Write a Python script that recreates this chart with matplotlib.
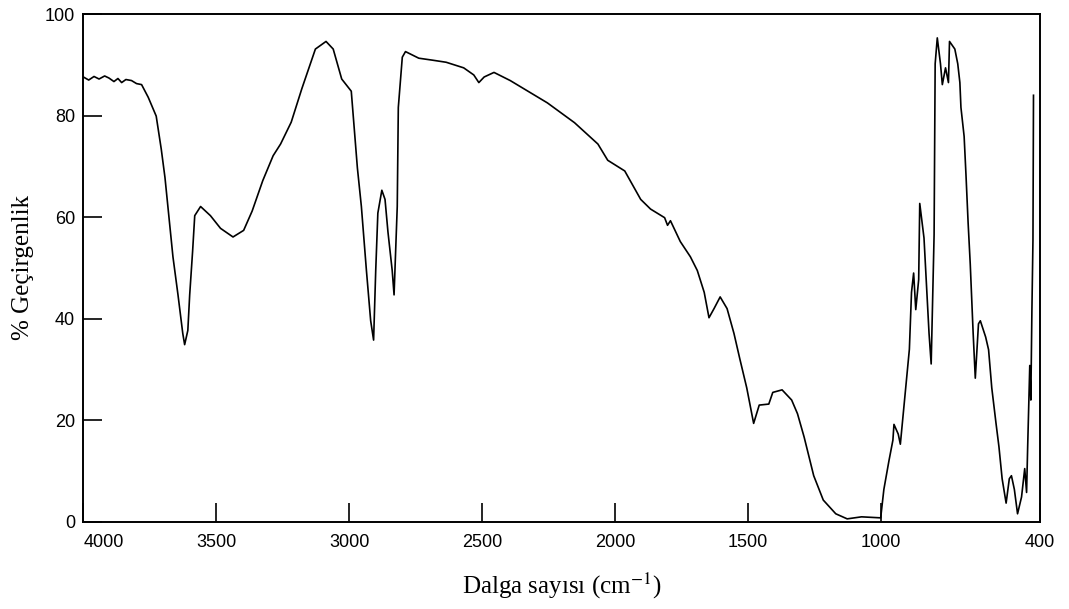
import matplotlib
matplotlib.use("Agg")
import matplotlib.pyplot as plt

# IR spectrum
wavenumber = [
    4000, 3980, 3960, 3941, 3920, 3904, 3885, 3870, 3856, 3840, 3819, 3800, 3781,
    3756, 3726, 3707, 3693, 3681, 3663, 3644, 3626, 3619, 3607, 3600, 3589, 3581,
    3559, 3522, 3484, 3437, 3397, 3365, 3325, 3286, 3258, 3218, 3178, 3127, 3087,
    3060, 3028, 2992, 2981, 2969, 2954, 2935, 2919, 2908, 2900, 2892, 2877, 2865,
    2854, 2838, 2831, 2819, 2815, 2800, 2788, 2738, 2685, 2635, 2569, 2531, 2512,
    2492, 2455, 2394, 2318, 2254, 2152, 2064, 2027, 1963, 1903, 1866, 1813, 1802,
    1791, 1754, 1716, 1690, 1664, 1646, 1627, 1604, 1578, 1552, 1530, 1504, 1478,
    1457, 1421, 1406, 1371, 1335, 1313, 1288, 1252, 1216, 1169, 1126, 1072, 1007,
    1000, 988, 969, 954, 950, 934, 926, 915, 903, 892, 884, 876, 868, 857, 853,
    837, 818, 810, 799, 795, 787, 775, 768, 756, 745, 741, 721, 710, 702, 698,
    686, 679, 671, 663, 659, 652, 644, 632, 625, 605, 594, 582, 566, 555, 543,
    528, 516, 508, 497, 485, 470, 458, 451, 447, 439, 435, 431, 427, 425,
]
transmittance = [
    87.6, 87.0, 87.7, 87.2, 87.8, 87.4, 86.7, 87.3, 86.5, 87.1, 86.9, 86.3, 86.1,
    83.6, 79.9, 73.4, 67.8, 61.6, 52.2, 44.7, 37.1, 34.9, 37.7, 44.7, 53.3, 60.3,
    62.1, 60.3, 57.8, 56.1, 57.4, 61.2, 67.2, 72.1, 74.4, 78.7, 85.3, 93.1, 94.6,
    93.1, 87.2, 84.8, 77.7, 69.7, 62.1, 49.5, 39.6, 35.8, 49.5, 60.8, 65.3, 63.5,
    57.1, 49.5, 44.7, 62.1, 81.6, 91.5, 92.6, 91.3, 90.9, 90.5, 89.4, 88.0, 86.5,
    87.6, 88.5, 86.9, 84.5, 82.5, 78.6, 74.4, 71.2, 69.1, 63.5, 61.6, 59.9, 58.4,
    59.3, 55.2, 52.2, 49.5, 45.2, 40.2, 42.0, 44.3, 42.0, 37.1, 32.1, 26.4, 19.4,
    23.0, 23.2, 25.5, 26.0, 24.0, 21.3, 16.7, 9.1, 4.3, 1.6, 0.6, 1.0, 0.8,
    0.8, 6.4, 12.0, 16.1, 19.2, 17.3, 15.3, 21.3, 27.7, 34.0, 45.2, 49.0, 41.8,
    47.7, 62.7, 55.9, 37.1, 31.1, 56.5, 90.2, 95.3, 90.2, 86.1, 89.4, 86.5, 94.6,
    93.1, 90.2, 86.5, 81.6, 75.9, 68.3, 58.9, 50.8, 45.8, 37.1, 28.3, 39.0, 39.6,
    36.4, 33.9, 26.4, 19.4, 14.8, 8.5, 3.7, 8.5, 9.1, 6.4, 1.6, 4.9, 10.5, 5.8,
    14.6, 30.8, 24.0, 41.5, 55.5, 84.0,
]

x_ticks = [4000, 3500, 3000, 2500, 2000, 1500, 1000, 400]
y_ticks = [0, 20, 40, 60, 80, 100]

plt.rcParams["mathtext.fontset"] = "stix"

fig = plt.figure(figsize=(10.69, 6.09), dpi=100)
ax = fig.add_axes([0.078, 0.143, 0.895, 0.834])

ax.plot(wavenumber, transmittance, color="black", linewidth=1.2)

ax.set_xlim(4000, 400)
ax.set_ylim(0, 100)
ax.set_xticks(x_ticks)
ax.set_yticks(y_ticks)
ax.tick_params(direction="in", length=14, width=1.2, labelsize=13)
ax.tick_params(axis="x", pad=9)
ax.tick_params(axis="y", pad=6)
for lab in ax.get_xticklabels() + ax.get_yticklabels():
    lab.set_fontfamily("Liberation Sans")
# first x label sits to the right of its tick, as in the scan
ax.get_xticklabels()[0].set_horizontalalignment("left")
for sp in ax.spines.values():
    sp.set_linewidth(1.4)

ax.set_xlabel("Dalga sayısı (cm$^{-1}$)", fontfamily="Liberation Serif",
              fontsize=18, labelpad=14)
ax.set_ylabel("% Geçirgenlik", fontfamily="Liberation Serif", fontsize=18,
              labelpad=8)

fig.savefig("out.png", dpi=100)
